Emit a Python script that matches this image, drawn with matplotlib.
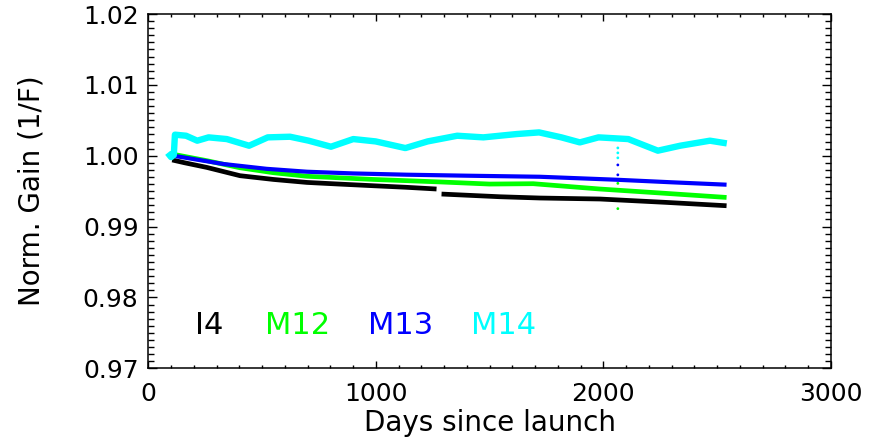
import numpy as np
import matplotlib
matplotlib.use("Agg")
import matplotlib.pyplot as plt
from matplotlib.ticker import MultipleLocator

# valores (dias desde el lanzamiento, ganancia normalizada)
i4_dias_a = [105, 160, 257, 403, 550, 697, 850, 990, 1130, 1267]
i4_gan_a = [0.9994, 0.9990, 0.99835, 0.99718, 0.99665, 0.99623, 0.99598, 0.99576, 0.99555, 0.99530]
i4_dias_b = [1289, 1545, 1721, 1985, 2278, 2542]
i4_gan_b = [0.99459, 0.99421, 0.99403, 0.99389, 0.99341, 0.99294]

m12_dias = [95, 110, 257, 403, 550, 697, 990, 1282, 1500, 1692, 1985, 2278, 2542]
m12_gan = [1.0003, 1.0002, 0.9993, 0.99830, 0.99760, 0.99710, 0.99665, 0.99630, 0.99600, 0.99605,
           0.99530, 0.99468, 0.99411]

m13_dias = [100, 110, 330, 520, 697, 900, 1136, 1400, 1721, 2058, 2300, 2542]
m13_gan = [1.0001, 1.0000, 0.99883, 0.99815, 0.99774, 0.99750, 0.99732, 0.99718, 0.99703, 0.99661,
           0.99625, 0.99591]

m14_dias = [85, 100, 112, 117, 166, 215, 265, 345, 443, 525, 623, 705, 803, 901, 999, 1130,
            1228, 1358, 1473, 1620, 1718, 1816, 1897, 1979, 2110, 2240, 2338, 2469, 2543]
m14_gan = [1.0004, 0.9998, 1.0001, 1.00297, 1.00282, 1.00212, 1.00259, 1.00235, 1.00141, 1.00259,
           1.00268, 1.00212, 1.00127, 1.00235, 1.00202, 1.00108, 1.00202, 1.00282, 1.00259,
           1.00306, 1.00329, 1.00259, 1.00188, 1.00259, 1.00235, 1.00071, 1.00141, 1.00212,
           1.00174]

# puntos atipicos cerca del dia 2064
atip_dias = [2064, 2064, 2064, 2064, 2064, 2064, 2064]
atip_gan = [1.0011, 1.0004, 0.9997, 0.9987, 0.9973, 0.9961, 0.99253]
atip_col = ['cyan', 'cyan', 'cyan', 'blue', 'blue', '#00ff00', '#00ff00']

etiquetas = ['I4', 'M12', 'M13', 'M14']
colores = ['black', '#00ff00', 'blue', 'cyan']
etiq_x = [268, 658, 1109, 1560]
etiq_y = 0.9760

fig = plt.figure(figsize=(8.73, 4.42), dpi=100)
ax = fig.add_axes([0.1699, 0.1668, 0.7817, 0.8015])

ax.plot(i4_dias_a, i4_gan_a, color='black', lw=3.4, solid_capstyle='butt')
ax.plot(i4_dias_b, i4_gan_b, color='black', lw=3.4, solid_capstyle='butt')
ax.plot(m12_dias, m12_gan, color='#00ff00', lw=3.4, solid_capstyle='butt')
ax.plot(m13_dias, m13_gan, color='blue', lw=3.0, solid_capstyle='butt')
ax.plot(m14_dias, m14_gan, color='cyan', lw=4.6, solid_capstyle='butt', solid_joinstyle='round')
ax.scatter(atip_dias, atip_gan, c=atip_col, s=4, lw=0)

for t, c, x in zip(etiquetas, colores, etiq_x):
    ax.text(x, etiq_y, t, color=c, fontsize=22, ha='center', va='center')

ax.set_xlim(0, 3000)
ax.set_ylim(0.97, 1.02)
ax.xaxis.set_major_locator(MultipleLocator(1000))
ax.xaxis.set_minor_locator(MultipleLocator(100))
ax.yaxis.set_major_locator(MultipleLocator(0.01))
ax.yaxis.set_minor_locator(MultipleLocator(0.001))
ax.yaxis.set_major_formatter(matplotlib.ticker.FormatStrFormatter('%.2f'))

ax.tick_params(axis='both', which='both', direction='in', top=True, right=True,
               width=1.0, labelsize=18)
ax.tick_params(axis='x', which='major', length=5, pad=10)
ax.tick_params(axis='x', which='minor', length=2.5)
ax.tick_params(axis='y', which='major', length=6.5, pad=7)
ax.tick_params(axis='y', which='minor', length=4)
for s in ax.spines.values():
    s.set_linewidth(1.1)

ax.set_xlabel('Days since launch', fontsize=20, labelpad=2)
ax.set_ylabel('Norm. Gain (1/F)', fontsize=20, labelpad=27)

plt.savefig('out.png', dpi=100)
